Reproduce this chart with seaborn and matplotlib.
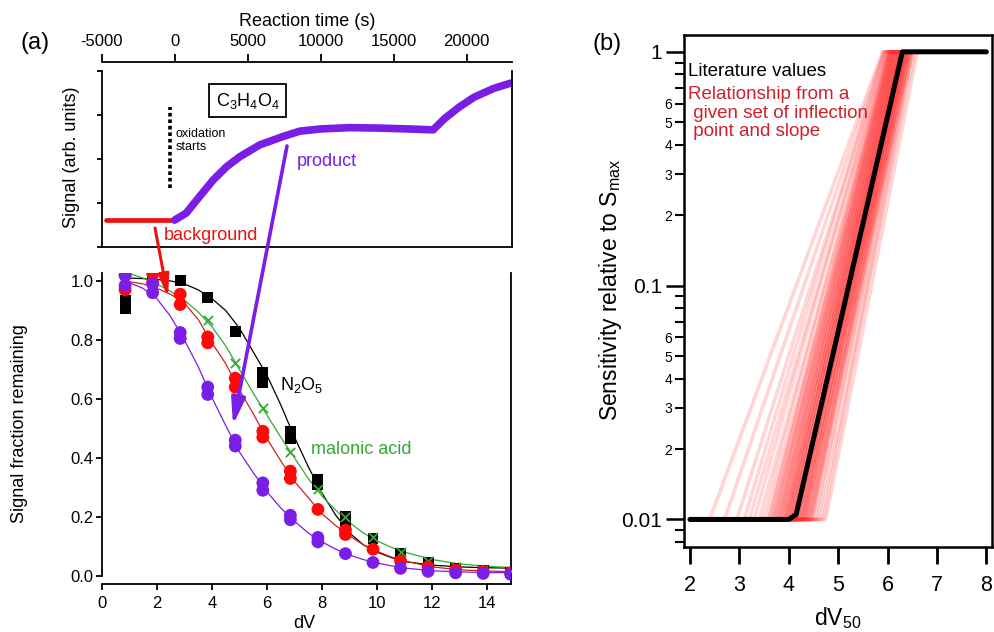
import numpy as np
import pandas as pd
import seaborn as sns
import matplotlib
matplotlib.use("Agg")
import matplotlib.pyplot as plt
from matplotlib.patches import FancyArrowPatch
from matplotlib.ticker import FixedLocator, FixedFormatter, FormatStrFormatter

# ---------------- data: panel (a) top, time trace ----------------
bg_time = [-4700, -3000, -1500, 0]
bg_signal = [0.61, 0.61, 0.61, 0.61]
prod_time = [0, 800, 1700, 2640, 3550, 4470, 5840, 7440, 8580, 10000, 12000,
             14000, 16000, 17700, 18500, 19500, 20500, 21850, 23000]
prod_signal = [0.61, 0.77, 1.14, 1.52, 1.82, 2.05, 2.32, 2.51, 2.63, 2.68, 2.71,
               2.70, 2.68, 2.66, 2.92, 3.18, 3.40, 3.60, 3.72]
ox_line_time = [-340, -340]
ox_line_signal = [1.34, 3.18]
time_ticks = [-5000, 0, 5000, 10000, 15000, 20000]

# ---------------- data: panel (a) bottom, dV scans ----------------
n2o5_dv = [0.85, 0.85, 1.85, 2.85, 3.85, 4.85, 5.85, 5.85, 6.85, 6.85, 7.85, 7.85,
           8.85, 8.85, 9.85, 10.85, 11.85, 12.85, 13.85, 14.85]
n2o5_frac = [0.905, 0.935, 1.01, 1.0, 0.945, 0.83, 0.655, 0.69, 0.465, 0.49, 0.31, 0.325,
             0.175, 0.2, 0.125, 0.075, 0.045, 0.025, 0.018, 0.012]
mal_dv = [0.85, 1.85, 2.85, 3.85, 4.85, 5.85, 6.85, 7.85, 8.85, 9.85, 10.85, 11.85,
          12.85, 13.85, 14.85]
mal_frac = [1.02, 1.0, 0.95, 0.868, 0.723, 0.568, 0.421, 0.293, 0.2, 0.13, 0.082, 0.051,
            0.03, 0.02, 0.015]
bg_dv = [0.85, 0.85, 1.85, 1.85, 2.85, 2.85, 3.85, 3.85, 4.85, 4.85, 5.85, 5.85, 6.85, 6.85,
         7.85, 8.85, 8.85, 9.85, 10.85, 11.85, 12.85, 13.85, 14.85]
bg_frac = [0.97, 1.02, 0.995, 1.025, 0.92, 0.955, 0.79, 0.81, 0.64, 0.67, 0.47, 0.49, 0.33, 0.355,
           0.225, 0.14, 0.155, 0.09, 0.05, 0.03, 0.02, 0.015, 0.01]
prod_dv = [0.85, 0.85, 1.85, 1.85, 2.85, 2.85, 3.85, 3.85, 4.85, 4.85, 5.85, 5.85, 6.85, 6.85,
           7.85, 7.85, 8.85, 9.85, 10.85, 11.85, 12.85, 13.85, 14.85]
prod_frac = [0.985, 1.02, 0.96, 0.99, 0.805, 0.825, 0.615, 0.64, 0.44, 0.46, 0.29, 0.315, 0.19, 0.205,
             0.115, 0.13, 0.075, 0.045, 0.025, 0.015, 0.01, 0.008, 0.005]

fit_dv = [0.85, 1.5, 2, 2.5, 3, 3.5, 4, 4.5, 5, 5.5, 6, 6.5, 7, 7.5, 8, 8.5, 9, 9.5,
          10, 10.5, 11, 12, 13, 14, 14.85]
fit_n2o5 = [1.01, 1.008, 1.005, 1.0, 0.99, 0.97, 0.94, 0.90, 0.84, 0.76, 0.68, 0.58, 0.47,
            0.37, 0.28, 0.205, 0.145, 0.105, 0.08, 0.062, 0.048, 0.036, 0.03, 0.027, 0.026]
fit_mal = [1.03, 1.01, 0.99, 0.965, 0.935, 0.895, 0.845, 0.78, 0.70, 0.62, 0.545, 0.47, 0.40,
           0.33, 0.27, 0.222, 0.18, 0.145, 0.118, 0.097, 0.08, 0.055, 0.04, 0.032, 0.028]
fit_bg = [1.0, 0.99, 0.975, 0.955, 0.925, 0.87, 0.79, 0.72, 0.63, 0.55, 0.465, 0.39, 0.32,
          0.265, 0.21, 0.17, 0.135, 0.105, 0.083, 0.064, 0.05, 0.03, 0.02, 0.016, 0.014]
fit_prod = [1.0, 0.975, 0.94, 0.88, 0.80, 0.71, 0.605, 0.51, 0.42, 0.35, 0.285, 0.23, 0.185,
            0.145, 0.115, 0.09, 0.07, 0.055, 0.043, 0.034, 0.026, 0.017, 0.013, 0.011, 0.01]

# ---------------- data: panel (b) ----------------
lit_dv50 = [2.0, 4.0, 4.15, 6.3, 8.0]
lit_sens = [0.01, 0.01, 0.0105, 1.0, 1.0]
dv50_range = [2.0, 8.0]
sens_floor = 0.01
sens_ceiling = 1.0
# dV50 where each trial relationship leaves the 0.01 floor / reaches 1
fan_start = [2.40, 2.70, 2.95, 3.10, 3.20, 3.30, 3.40, 3.48, 3.55, 3.60, 3.62, 3.66, 3.68,
             3.71, 3.73, 3.76, 3.78, 3.80, 3.82, 3.84, 3.86, 3.88, 3.90, 3.92, 3.93, 3.95,
             3.96, 3.98, 3.99, 4.01, 4.02, 4.04, 4.05, 4.07, 4.08, 4.10, 4.11, 4.13, 4.14,
             4.16, 4.17, 4.19, 4.20, 4.22, 4.23, 4.25, 4.26, 4.28, 4.29, 4.31, 4.32, 4.34,
             4.36, 4.38, 4.40, 4.42, 4.44, 4.46, 4.48, 4.53, 4.58, 4.64, 4.70, 4.75]
fan_end = [5.90, 5.92, 5.95, 5.93, 6.00, 5.97, 6.05, 6.00, 6.08, 6.02, 6.03, 6.11, 6.10,
           6.04, 6.06, 6.15, 6.14, 6.07, 6.09, 6.19, 6.18, 6.10, 6.12, 6.23, 6.22, 6.14,
           6.15, 6.26, 6.25, 6.17, 6.18, 6.29, 6.28, 6.20, 6.22, 6.33, 6.32, 6.24, 6.25,
           6.36, 6.35, 6.27, 6.28, 6.39, 6.38, 6.30, 6.31, 6.41, 6.40, 6.33, 6.34, 6.45,
           6.44, 6.36, 6.37, 6.48, 6.47, 6.40, 6.41, 6.50, 6.45, 6.55, 6.50, 6.60]

# ---------------- style ----------------
sns.set_theme(style="ticks")
plt.rcParams['font.family'] = ['Liberation Sans', 'DejaVu Sans']
plt.rcParams.update({
    'mathtext.fontset': 'custom',
    'mathtext.rm': 'Liberation Sans',
    'mathtext.it': 'Liberation Sans:italic',
    'axes.edgecolor': 'black', 'xtick.color': 'black', 'ytick.color': 'black',
    'text.color': 'black', 'axes.labelcolor': 'black',
})

RED = '#f01010'
PURPLE = '#7a1de6'
GREEN = '#33aa33'
W, H = 994, 632
fig = plt.figure(figsize=(9.94, 6.32), dpi=100)


def rect(l, t, r, b):
    return [l / W, 1 - b / H, (r - l) / W, (b - t) / H]


def fp(x, y):
    return (x / W, 1 - y / H)


def ftext(x, y, s, **kw):
    kw.setdefault('ha', 'center')
    kw.setdefault('va', 'center')
    fig.text(x / W, 1 - y / H, s, **kw)


# ---------------- panel (a) top ----------------
axT = fig.add_axes(rect(101.5, 62, 512, 247))
sns.lineplot(x=bg_time, y=bg_signal, ax=axT, color=RED, lw=3.4, sort=False, estimator=None)
sns.lineplot(x=prod_time, y=prod_signal, ax=axT, color=PURPLE, lw=5.5, sort=False, estimator=None)
axT.plot(ox_line_time, ox_line_signal, color='black', lw=2.6, ls=(0, (1, 0.8)))
axT.set_xlim(-5000, 23100)
axT.set_ylim(0, 4.2)
axT.xaxis.tick_top()
axT.set_xticks(time_ticks)
axT.set_xticklabels([str(t) for t in time_ticks])
axT.set_yticks([0, 1, 2, 3, 4])
axT.set_yticklabels([])
axT.set_xlabel('')
axT.set_ylabel('')
for sp in axT.spines.values():
    sp.set_linewidth(1.3)
axT.spines['left'].set_bounds(0, 4)
axT.spines['right'].set_bounds(0, 4)
axT.tick_params(axis='x', top=True, bottom=False, labeltop=True, labelbottom=False,
                direction='out', length=6, width=1.3, labelsize=12, pad=3)
axT.tick_params(axis='y', left=True, right=False, direction='out', length=3.5, width=1.3)
axT.text(5000, 3.32, 'C$_3$H$_4$O$_4$', ha='center', va='center', fontsize=13,
         bbox=dict(boxstyle='square,pad=0.35', fc='white', ec='black', lw=1.3))

# ---------------- panel (a) bottom ----------------
axB = fig.add_axes(rect(101.7, 273, 510.7, 584))
sns.lineplot(x=fit_dv, y=fit_n2o5, ax=axB, color='black', lw=0.9, estimator=None)
sns.lineplot(x=fit_dv, y=fit_mal, ax=axB, color=GREEN, lw=0.9, estimator=None)
sns.lineplot(x=fit_dv, y=fit_bg, ax=axB, color='#d02020', lw=0.9, estimator=None)
sns.lineplot(x=fit_dv, y=fit_prod, ax=axB, color=PURPLE, lw=0.9, estimator=None)
sns.scatterplot(x=n2o5_dv, y=n2o5_frac, ax=axB, marker='s', s=62, color='black',
                edgecolor='none', zorder=3)
sns.scatterplot(x=mal_dv, y=mal_frac, ax=axB, marker='x', s=45, color=GREEN,
                linewidth=1.3, zorder=4)
sns.scatterplot(x=bg_dv, y=bg_frac, ax=axB, marker='o', s=85, color='#ff0808',
                edgecolor='none', zorder=5)
sns.scatterplot(x=prod_dv, y=prod_frac, ax=axB, marker='o', s=85, color=PURPLE,
                edgecolor='none', zorder=6)
axB.set_xlim(0, 14.85)
axB.set_ylim(-0.028, 1.027)
axB.set_xticks(range(0, 15, 2))
axB.set_yticks([0, 0.2, 0.4, 0.6, 0.8, 1.0])
axB.yaxis.set_major_formatter(FormatStrFormatter('%.1f'))
axB.set_xlabel('')
axB.set_ylabel('')
for sp in axB.spines.values():
    sp.set_linewidth(1.3)
axB.spines['top'].set_visible(False)
axB.spines['left'].set_bounds(0, 1.027)
axB.tick_params(axis='both', direction='out', length=4, width=1.3, labelsize=12)
axB.tick_params(axis='y', pad=2)
axB.tick_params(axis='x', pad=5)

# ---------------- panel (b) ----------------
axR = fig.add_axes(rect(684, 35, 992.3, 547.3))
rows = []
for i, (a, b) in enumerate(zip(fan_start, fan_end)):
    for xv, yv in zip([dv50_range[0], a, b, dv50_range[1]],
                      [sens_floor, sens_floor, sens_ceiling, sens_ceiling]):
        rows.append(dict(line=i, dv50=xv, sens=yv))
fan = pd.DataFrame(rows)
sns.lineplot(data=fan, x='dv50', y='sens', units='line', estimator=None, ax=axR,
             color='#ff3030', alpha=0.2, lw=2.6)
sns.lineplot(x=lit_dv50, y=lit_sens, ax=axR, color='black', lw=3.6, estimator=None)
axR.set_yscale('log')
axR.set_xlim(1.88, 8.12)
axR.set_ylim(0.0076, 1.18)
axR.set_xticks(range(2, 9))
axR.yaxis.set_major_locator(FixedLocator([0.01, 0.1, 1]))
axR.yaxis.set_major_formatter(FixedFormatter(['0.01', '0.1', '1']))
minor_vals, minor_labs = [0.008, 0.009], ['', '']
for dec in [0.01, 0.1]:
    for k in range(2, 10):
        minor_vals.append(k * dec)
        minor_labs.append(str(k) if k <= 6 else '')
axR.yaxis.set_minor_locator(FixedLocator(minor_vals))
axR.yaxis.set_minor_formatter(FixedFormatter(minor_labs))
axR.set_xlabel('')
axR.set_ylabel('')
for sp in axR.spines.values():
    sp.set_linewidth(1.8)
axR.tick_params(axis='y', which='major', direction='out', length=13, width=1.8,
                labelsize=15, pad=3)
axR.tick_params(axis='y', which='minor', direction='out', length=6.5, width=1.5,
                labelsize=10, pad=2)
axR.tick_params(axis='x', which='major', direction='out', length=12, width=2,
                labelsize=15.5, pad=8)
axR.tick_params(axis='x', which='minor', bottom=False)

# ---------------- text ----------------
ftext(35, 43, '(a)', fontsize=17)
ftext(607, 44, '(b)', fontsize=17)
ftext(307, 21, 'Reaction time (s)', fontsize=13)
ftext(72, 157, 'Signal (arb. units)', fontsize=13, rotation=90)
ftext(176, 140.5, 'oxidation\nstarts', fontsize=9, ha='left', linespacing=1.2)
ftext(327, 161, 'product', fontsize=13, color=PURPLE)
ftext(211, 236, 'background', fontsize=13, color=RED)
ftext(302, 385, 'N$_2$O$_5$', fontsize=13)
ftext(361, 449, 'malonic acid', fontsize=13, color=GREEN)
ftext(19.5, 424, 'Signal fraction remaining', fontsize=13, rotation=90)
ftext(304, 623, 'dV', fontsize=13)
ftext(611, 290, 'Sensitivity relative to S$_{\\mathrm{max}}$', fontsize=16.5, rotation=90)
ftext(838, 618, 'dV$_{50}$', fontsize=16.5)
ftext(688, 71, 'Literature values', fontsize=13.5, ha='left')
ftext(688, 113, 'Relationship from a\n given set of inflection\n point and slope',
      fontsize=13.5, ha='left', color='#d0202a', linespacing=1.12)

# ---------------- arrows ----------------
fig.add_artist(FancyArrowPatch(fp(155, 228), fp(168, 297), transform=fig.transFigure,
                               arrowstyle='-|>,head_length=1.3,head_width=0.32',
                               mutation_scale=10, color=RED, lw=2.2,
                               shrinkA=0, shrinkB=0))
fig.add_artist(FancyArrowPatch(fp(287, 146), fp(233, 425), transform=fig.transFigure,
                               arrowstyle='-|>,head_length=1.6,head_width=0.42',
                               mutation_scale=10, color=PURPLE, lw=2.6,
                               shrinkA=0, shrinkB=0))

fig.savefig('out.png', dpi=100)
